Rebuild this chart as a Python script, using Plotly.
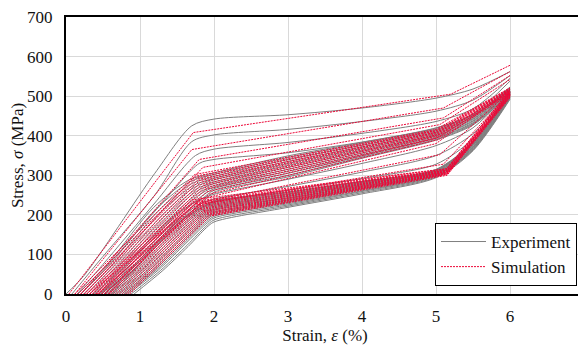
import plotly.graph_objects as go

X_TICKS = [0, 1, 2, 3, 4, 5, 6, 7]
Y_TICKS = [0, 100, 200, 300, 400, 500, 600, 700]

# Experiment curves: knots (e0, ea, sa, eb, sb, ek, sk) then stresses at EXP_GRID strains
EXP_GRID = [2.0, 3.0, 4.0, 5.0, 5.5, 6.0]
EXP_UPPER = [
    (0.00, 0.25, 48, 1.20, 305, 1.70, 425, 442, 453, 470, 495, 518, 562),
    (0.08, 0.50, 95, 1.20, 250, 1.70, 385, 402, 416, 436, 462, 490, 552),
    (0.15, 0.50, 75, 1.20, 230, 1.75, 350, 366, 383, 406, 436, 468, 545),
    (0.20, 0.60, 80, 1.30, 230, 1.80, 330, 340, 357, 384, 420, 455, 538),
]
EXP_MIDDLE = [
    (0.16, 0.58, 80, 1.18, 218, 1.66, 288, 306, 349, 383, 419, 453, 523),
    (0.20, 0.62, 80, 1.22, 215, 1.68, 284, 302, 345, 380, 416, 451, 521),
    (0.24, 0.66, 81, 1.26, 212, 1.70, 279, 297, 340, 376, 413, 448, 519),
    (0.28, 0.70, 82, 1.30, 210, 1.72, 274, 292, 335, 372, 410, 446, 518),
    (0.32, 0.74, 82, 1.34, 207, 1.73, 269, 288, 330, 368, 407, 443, 516),
    (0.36, 0.78, 83, 1.38, 205, 1.75, 264, 283, 325, 364, 404, 441, 515),
    (0.40, 0.82, 84, 1.41, 202, 1.76, 259, 279, 320, 360, 401, 438, 514),
    (0.44, 0.86, 84, 1.44, 199, 1.78, 254, 274, 315, 356, 399, 436, 512),
    (0.48, 0.90, 85, 1.47, 196, 1.79, 249, 270, 310, 352, 396, 433, 511),
    (0.52, 0.94, 85, 1.50, 193, 1.81, 244, 266, 305, 349, 394, 431, 509),
    (0.57, 0.99, 85, 1.53, 190, 1.83, 239, 262, 300, 346, 391, 429, 507),
    (0.62, 1.04, 85, 1.55, 185, 1.85, 233, 257, 296, 343, 389, 427, 505),
]
EXP_INTER = [
    (0.38, 0.85, 80, 1.45, 195, 1.80, 238, 252, 290, 330, 375, 420, 512),
    (0.45, 0.90, 78, 1.50, 188, 1.82, 228, 240, 272, 308, 350, 405, 510),
    (0.52, 0.95, 75, 1.52, 180, 1.85, 220, 233, 262, 292, 328, 392, 508),
]
EXP_LOWER = [
    (0.45, 0.90, 70, 1.40, 165, 1.75, 215, 235, 258, 285, 315, 385, 512),
    (0.48, 0.93, 70, 1.42, 163, 1.76, 212, 232, 256, 284, 314, 384, 511),
    (0.51, 0.96, 70, 1.44, 161, 1.77, 209, 229, 253, 282, 313, 382, 510),
    (0.54, 0.99, 70, 1.46, 158, 1.78, 206, 226, 251, 280, 312, 381, 509),
    (0.57, 1.02, 69, 1.48, 156, 1.79, 203, 223, 248, 278, 311, 379, 507),
    (0.60, 1.05, 68, 1.50, 153, 1.80, 200, 220, 246, 276, 310, 378, 506),
    (0.63, 1.08, 68, 1.52, 150, 1.81, 197, 217, 243, 274, 308, 376, 505),
    (0.66, 1.11, 67, 1.54, 147, 1.82, 194, 214, 241, 272, 307, 375, 504),
    (0.69, 1.14, 66, 1.56, 144, 1.83, 191, 211, 238, 270, 306, 373, 503),
    (0.72, 1.16, 65, 1.57, 141, 1.84, 188, 207, 236, 268, 304, 371, 501),
    (0.75, 1.19, 64, 1.59, 138, 1.85, 185, 204, 233, 266, 303, 370, 500),
    (0.78, 1.21, 63, 1.60, 135, 1.86, 182, 200, 231, 264, 301, 368, 499),
    (0.81, 1.23, 62, 1.61, 131, 1.87, 178, 196, 228, 261, 300, 367, 497),
    (0.84, 1.25, 61, 1.62, 128, 1.88, 175, 192, 225, 259, 298, 365, 496),
    (0.88, 1.28, 60, 1.64, 124, 1.89, 171, 187, 222, 256, 296, 364, 494),
    (0.92, 1.30, 58, 1.65, 120, 1.90, 168, 182, 219, 253, 294, 362, 492),
]

# Simulation curves: (e0, ey, sy, eb, sb, s6) -> piecewise linear up to strain SIM_END
SIM_END = 6.0
SIM_UPPER = [
    (0.04, 1.72, 408, 5.20, 505, 578),
    (0.12, 1.70, 365, 5.10, 470, 562),
    (0.20, 1.80, 340, 5.10, 445, 552),
    (0.25, 1.85, 320, 5.05, 428, 542),
]
SIM_MIDDLE = [
    (0.12, 1.74, 302, 5.00, 416, 521),
    (0.16, 1.76, 298, 5.02, 414, 520),
    (0.20, 1.77, 294, 5.00, 412, 518),
    (0.24, 1.79, 290, 5.03, 410, 517),
    (0.28, 1.80, 286, 5.00, 408, 516),
    (0.32, 1.82, 282, 5.02, 406, 515),
    (0.36, 1.83, 277, 5.05, 404, 514),
    (0.40, 1.85, 273, 5.00, 401, 512),
    (0.44, 1.86, 268, 5.02, 399, 511),
    (0.48, 1.88, 264, 5.04, 396, 510),
    (0.53, 1.90, 258, 5.00, 393, 508),
    (0.58, 1.93, 252, 5.03, 390, 506),
]
SIM_INTER = [
    (0.32, 1.82, 240, 5.00, 380, 515),
    (0.42, 1.85, 232, 5.05, 352, 512),
    (0.52, 1.85, 228, 5.10, 328, 508),
]
SIM_LOWER = [
    (0.28, 1.70, 238, 5.15, 317, 516),
    (0.32, 1.72, 234, 5.14, 316, 514),
    (0.36, 1.73, 231, 5.16, 314, 512),
    (0.40, 1.75, 228, 5.15, 313, 510),
    (0.44, 1.76, 225, 5.13, 312, 509),
    (0.48, 1.78, 222, 5.15, 311, 508),
    (0.52, 1.79, 219, 5.17, 310, 507),
    (0.56, 1.81, 216, 5.15, 309, 506),
    (0.60, 1.82, 213, 5.14, 308, 505),
    (0.64, 1.84, 210, 5.16, 307, 504),
    (0.68, 1.86, 208, 5.15, 306, 503),
    (0.72, 1.87, 205, 5.15, 305, 502),
    (0.76, 1.89, 203, 5.16, 304, 501),
    (0.80, 1.91, 201, 5.15, 303, 500),
    (0.83, 1.93, 199, 5.14, 302, 498),
    (0.86, 1.95, 197, 5.15, 300, 496),
]

GRAY = "#7f7f7f"
RED = "rgb(236,8,56)"
FONT = "Times New Roman, Liberation Serif, DejaVu Serif, serif"

fig = go.Figure()

first = True
for row in EXP_UPPER + EXP_MIDDLE + EXP_INTER + EXP_LOWER:
    e0, ea, sa, eb, sb, ek, sk = row[:7]
    xs = [e0, ea, eb, ek] + EXP_GRID
    ys = [0, sa, sb, sk] + list(row[7:])
    fig.add_trace(go.Scatter(
        x=xs, y=ys, mode="lines", name="Experiment",
        line=dict(color=GRAY, width=1, shape="spline", smoothing=0.8),
        legendgroup="exp", showlegend=first, hoverinfo="skip"))
    first = False

first = True
for e0, ey, sy, eb, sb, s6 in SIM_UPPER + SIM_MIDDLE + SIM_INTER + SIM_LOWER:
    fig.add_trace(go.Scatter(
        x=[e0, ey, eb, SIM_END], y=[0, sy, sb, s6], mode="lines", name="Simulation",
        line=dict(color=RED, width=1, dash="2px,1px"),
        legendgroup="sim", showlegend=first, hoverinfo="skip"))
    first = False

axis_common = dict(
    showline=True, linecolor="black", linewidth=2, mirror=True,
    showgrid=True, gridcolor="#d9d9d9", gridwidth=1, zeroline=False,
    ticks="", tickfont=dict(family=FONT, size=17, color="#111"),
    ticklabeloverflow="allow", automargin=False,
)

fig.update_xaxes(
    range=[0, 7], tickvals=X_TICKS, ticktext=[str(v) for v in X_TICKS],
    title=dict(text="Strain, <i>ε</i> (%)", font=dict(family=FONT, size=17, color="#111"), standoff=4),
    ticklabelstandoff=6, **axis_common)
fig.update_yaxes(
    range=[0, 700], tickvals=Y_TICKS, ticktext=[str(v) for v in Y_TICKS],
    title=dict(text="Stress, <i>σ</i> (MPa)", font=dict(family=FONT, size=17, color="#111"), standoff=7),
    ticklabelstandoff=8, **axis_common)

# page body has an 8px default margin, so the figure is sized to compensate
fig.update_layout(
    width=578, height=337,
    margin=dict(l=58, r=2, t=9, b=51),
    paper_bgcolor="white", plot_bgcolor="white",
    font=dict(family=FONT, size=17, color="#111"),
    legend=dict(
        x=0.9865, y=0.029, xanchor="right", yanchor="bottom",
        bgcolor="white", bordercolor="black", borderwidth=1,
        font=dict(family=FONT, size=17, color="#111"),
        tracegroupgap=0, itemwidth=45,
    ),
    showlegend=True,
)

fig.write_html("out.html")
